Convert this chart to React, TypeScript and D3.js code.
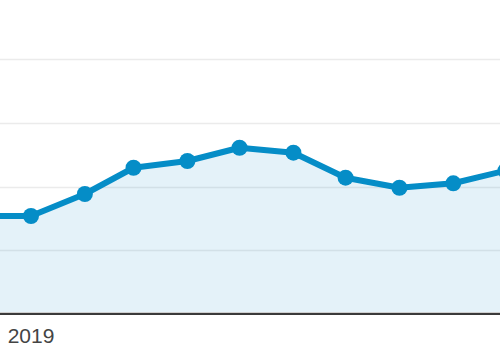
import React from "react";
import * as d3 from "d3";

const months: string[] = [
  "2018-12-01", "2019-01-01", "2019-02-01", "2019-03-01", "2019-04-01", "2019-05-01",
  "2019-06-01", "2019-07-01", "2019-08-01", "2019-09-01", "2019-10-01",
];
const values: number[] = [769, 769, 942, 1148, 1201, 1305, 1266, 1070, 991, 1026, 1125];
const gridValues: number[] = [500, 1000, 1500, 2000];
const yearLabels: string[] = ["2019"];
const yearDates: string[] = ["2019-01-01"];

const W = 500;
const H = 350;

export default function App() {
  const parse = d3.utcParse("%Y-%m-%d");
  const data = months.map((m, i) => ({ date: parse(m) as Date, value: values[i] }));

  const x = d3
    .scaleUtc()
    .domain([parse("2019-01-01") as Date, parse("2019-09-01") as Date])
    .range([31, 453.3]);
  const y = d3.scaleLinear().domain([0, 2000]).range([314, 59.2]);

  const line = d3
    .line<{ date: Date; value: number }>()
    .x((d) => x(d.date))
    .y((d) => y(d.value));
  const area = d3
    .area<{ date: Date; value: number }>()
    .x((d) => x(d.date))
    .y0(y(0))
    .y1((d) => y(d.value));

  const color = "#058dc7";

  return (
    <svg
      width={W}
      height={H}
      style={{ position: "absolute", left: 0, top: 0, background: "#fff" }}
    >
      <defs>
        <clipPath id="plot">
          <rect x={0} y={0} width={W} height={314} />
        </clipPath>
      </defs>
      {gridValues.map((g) => (
        <line
          key={g}
          x1={0}
          x2={W}
          y1={Math.round(y(g)) + 0.5}
          y2={Math.round(y(g)) + 0.5}
          stroke="#ebebeb"
          strokeWidth={1.5}
        />
      ))}
      <g clipPath="url(#plot)">
        <path d={area(data) || ""} fill={color} fillOpacity={0.11} />
        <path
          d={line(data) || ""}
          fill="none"
          stroke={color}
          strokeWidth={6}
          strokeLinejoin="round"
        />
        {data.map((d, i) => (
          <circle key={i} cx={x(d.date)} cy={y(d.value)} r={8} fill={color} />
        ))}
      </g>
      <line x1={0} x2={W} y1={312.5} y2={312.5} stroke="#cfcfcf" strokeWidth={1} />
      <line x1={0} x2={W} y1={314} y2={314} stroke="#3a3a3a" strokeWidth={2} />
      {yearLabels.map((t, i) => (
        <text
          key={t}
          x={x(parse(yearDates[i]) as Date)}
          y={342.5}
          textAnchor="middle"
          fontFamily="'Liberation Sans', Arial, sans-serif"
          fontSize={21}
          fill="#444"
        >
          {t}
        </text>
      ))}
    </svg>
  );
}
